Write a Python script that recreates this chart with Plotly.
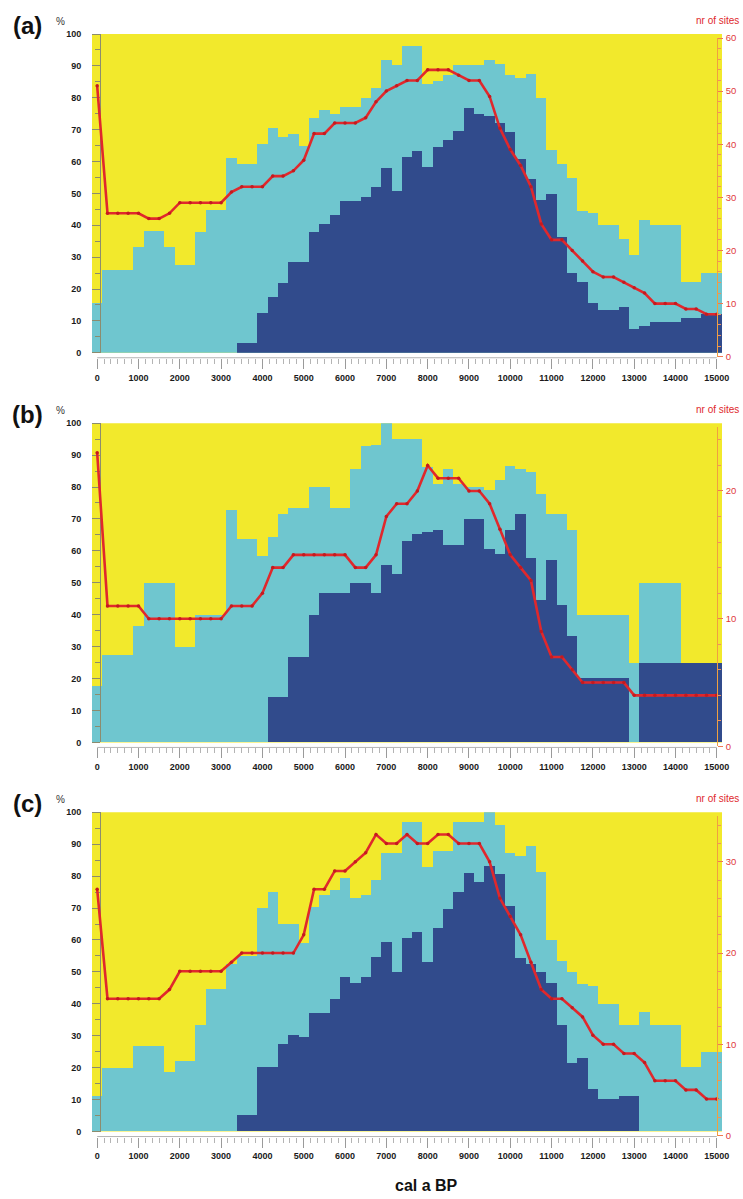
import plotly.graph_objects as go

# ---------------- data ----------------
years = list(range(0, 15001, 250))

# panel (a)
a_cyan = [15.5, 25.9, 25.9, 25.9, 33.2, 38.2, 38.2, 33.2, 27.5, 27.5, 37.8, 44.8, 44.8,
          61.1, 59.2, 59.2, 65.6, 70.5, 67.6, 68.5, 64.8, 73.7, 76.1, 75.0, 77.2, 77.2,
          79.8, 83.2, 92.0, 90.2, 96.1, 96.1, 84.2, 85.2, 87.0, 90.4, 90.3, 90.3, 91.8,
          90.7, 87.2, 86.2, 87.4, 79.9, 63.5, 59.1, 54.9, 44.4, 43.7, 40.0, 40.0, 35.8,
          30.8, 41.6, 40.0, 40.0, 40.0, 22.2, 22.2, 24.9, 24.9]
a_dark = [0, 0, 0, 0, 0, 0, 0, 0, 0, 0, 0, 0, 0, 0,
          3.0, 3.0, 12.4, 17.6, 22.0, 28.6, 28.4, 38.0, 40.4, 43.2, 47.7, 47.7, 48.9,
          52.0, 57.9, 50.8, 61.5, 63.4, 58.2, 64.7, 66.6, 69.7, 76.8, 75.0, 74.4, 72.0,
          69.2, 60.9, 54.6, 47.9, 49.9, 36.3, 24.9, 22.1, 15.5, 13.3, 13.3, 14.2, 7.6,
          8.3, 9.8, 9.8, 9.8, 10.9, 10.9, 12.2, 12.2]
a_sites = [51, 27, 27, 27, 27, 26, 26, 27, 29, 29, 29, 29, 29, 31, 32, 32, 32, 34, 34, 35,
           37, 42, 42, 44, 44, 44, 45, 48, 50, 51, 52, 52, 54, 54, 54, 53, 52, 52, 49, 43,
           39, 36, 32, 25, 22, 22, 20, 18, 16, 15, 15, 14, 13, 12, 10, 10, 10, 9, 9, 8, 8]

# panel (b)
b_cyan = [17.5, 27.3, 27.3, 27.3, 36.4, 50.0, 50.0, 50.0, 30.0, 30.0, 39.8, 39.8, 39.8,
          72.7, 63.6, 63.6, 58.3, 64.3, 71.4, 73.3, 73.3, 79.9, 79.9, 73.3, 73.3, 85.7,
          92.8, 93.2, 100.0, 94.9, 94.9, 95.1, 86.3, 80.9, 85.6, 80.9, 79.9, 79.9, 78.9,
          82.2, 86.6, 85.6, 84.6, 77.8, 71.4, 71.4, 66.5, 39.9, 39.9, 39.9, 39.9, 39.9,
          25.0, 50.0, 50.0, 50.0, 50.0, 25.0, 25.0, 25.0, 25.0]
b_dark = [0, 0, 0, 0, 0, 0, 0, 0, 0, 0, 0, 0, 0, 0, 0, 0, 0,
          14.3, 14.3, 26.8, 26.8, 40.0, 46.7, 46.7, 46.7, 50.0, 50.0, 46.7, 55.6, 52.7,
          63.1, 65.1, 65.9, 66.6, 61.9, 61.9, 70.0, 70.0, 60.5, 58.9, 66.6, 71.4, 57.6,
          44.5, 57.2, 42.9, 33.3, 20.0, 20.0, 20.0, 20.0, 20.0,
          0, 25.0, 25.0, 25.0, 25.0, 25.0, 25.0, 25.0, 25.0]
b_sites = [23, 11, 11, 11, 11, 10, 10, 10, 10, 10, 10, 10, 10, 11, 11, 11, 12, 14, 14, 15,
           15, 15, 15, 15, 15, 14, 14, 15, 18, 19, 19, 20, 22, 21, 21, 21, 20, 20, 19, 17,
           15, 14, 13, 9, 7, 7, 6, 5, 5, 5, 5, 5, 4, 4, 4, 4, 4, 4, 4, 4, 4]

# panel (c)
c_cyan = [11.1, 19.9, 19.9, 19.9, 26.6, 26.6, 26.6, 18.7, 22.0, 22.0, 33.3, 44.5, 44.5,
          52.5, 55.0, 55.0, 69.9, 74.9, 64.9, 64.9, 59.0, 70.3, 73.9, 75.7, 79.2, 73.2,
          74.0, 78.7, 87.3, 87.3, 96.9, 96.9, 82.7, 87.8, 87.8, 96.9, 96.9, 96.9, 100.0,
          96.0, 87.3, 86.2, 89.3, 81.1, 59.8, 53.3, 49.8, 46.1, 45.4, 39.8, 39.8, 33.3,
          33.3, 37.3, 33.3, 33.3, 33.3, 20.0, 20.0, 24.9, 24.9]
c_dark = [0, 0, 0, 0, 0, 0, 0, 0, 0, 0, 0, 0, 0, 0,
          5.0, 5.0, 20.0, 20.0, 27.5, 30.1, 29.5, 37.0, 37.0, 41.3, 48.3, 46.5, 48.3,
          54.5, 59.4, 49.8, 60.5, 62.4, 53.1, 63.6, 69.5, 74.9, 81.0, 78.1, 83.1, 80.5,
          70.7, 54.4, 52.5, 49.8, 46.5, 33.3, 21.3, 22.9, 13.4, 10.0, 10.0, 11.0, 11.0,
          0, 0, 0, 0, 0, 0, 0, 0]
c_sites = [27, 15, 15, 15, 15, 15, 15, 16, 18, 18, 18, 18, 18, 19, 20, 20, 20, 20, 20, 20,
           22, 27, 27, 29, 29, 30, 31, 33, 32, 32, 33, 32, 32, 33, 33, 32, 32, 32, 30, 26,
           24, 22, 19, 16, 15, 15, 14, 13, 11, 10, 10, 9, 9, 8, 6, 6, 6, 5, 5, 4, 4]

panel_labels = ["(a)", "(b)", "(c)"]
site_max = [60, 25, 35]
x_ticks = list(range(0, 15001, 1000))

for arr in (a_cyan, a_dark, a_sites, b_cyan, b_dark, b_sites, c_cyan, c_dark, c_sites):
    assert len(arr) == len(years), len(arr)

# ---------------- styling ----------------
W, H = 743, 1199
ML, MR = 92, 20.5
PW = W - ML - MR
YELLOW = "#f2e92c"
CYAN = "#6fc6cf"
DARK = "#314b8c"
RED = "#e0282c"
FONT = "Liberation Sans, Arial, sans-serif"

def py(px):
    return 1 - px / H

def pxx(px):
    return (px - ML) / PW

panels = [
    dict(cyan=a_cyan, dark=a_dark, sites=a_sites, top=28.3, bot=350.0),
    dict(cyan=b_cyan, dark=b_dark, sites=b_sites, top=421.0, bot=743.3),
    dict(cyan=c_cyan, dark=c_dark, sites=c_sites, top=813.7, bot=1136.0),
]

fig = go.Figure()
layout = dict(
    width=W, height=H, autosize=False,
    margin=dict(l=ML, r=MR, t=0, b=0, pad=0),
    paper_bgcolor="white", plot_bgcolor="rgba(0,0,0,0)",
    barmode="overlay", bargap=0, showlegend=False,
    font=dict(family=FONT, color="#1a1a1a"),
)
shapes = []
annotations = []

for i, p in enumerate(panels):
    xn = "x" if i == 0 else f"x{i+1}"
    yl = "y" if i == 0 else f"y{2*i+1}"
    yr = f"y{2*i+2}"
    xkey = "xaxis" if i == 0 else f"xaxis{i+1}"
    ylkey = "yaxis" if i == 0 else f"yaxis{2*i+1}"
    yrkey = f"yaxis{2*i+2}"

    fig.add_trace(go.Bar(x=years, y=p["cyan"], width=250, xaxis=xn, yaxis=yl,
                         marker=dict(color=CYAN, line=dict(width=0)), hoverinfo="skip"))
    fig.add_trace(go.Bar(x=years, y=p["dark"], width=250, xaxis=xn, yaxis=yl,
                         marker=dict(color=DARK, line=dict(width=0)), hoverinfo="skip"))
    fig.add_trace(go.Scatter(x=years, y=p["sites"], xaxis=xn, yaxis=yr,
                             mode="lines+markers", cliponaxis=False,
                             line=dict(color=RED, width=2.6),
                             marker=dict(size=3.5, color="#c41a1f")))

    layout[xkey] = dict(
        domain=[0, 1], range=[-125, 15125], anchor="free",
        position=py(p["bot"] + 5), showline=False, zeroline=False, showgrid=False,
        ticks="outside", tickmode="array", tickvals=x_ticks,
        ticktext=[str(v) for v in x_ticks], ticklen=10, tickwidth=1,
        tickcolor="#9a9a9a",
        minor=dict(ticks="outside", tick0=0, dtick=1000 / 6, ticklen=5,
                   tickwidth=1, tickcolor="#b4b4b4", showgrid=False),
        tickfont=dict(size=9, color="#1a1a1a", family=FONT, weight="bold"),
        ticklabelstandoff=1,
    )
    layout[ylkey] = dict(
        domain=[py(p["bot"]), py(p["top"])], range=[0, 100], anchor="free",
        position=pxx(100), side="left", showline=True, linecolor="#8c8c6e",
        linewidth=1, zeroline=False, showgrid=False,
        ticks="outside", tick0=0, dtick=10, ticklen=8, tickwidth=1,
        tickcolor="#8c8c6e",
        minor=dict(ticks="outside", tick0=0, dtick=5, ticklen=5, tickwidth=1,
                   tickcolor="#8c8c6e", showgrid=False),
        tickfont=dict(size=9, color="#1a1a1a", family=FONT, weight="bold"),
        ticklabelstandoff=9,
    )
    layout[yrkey] = dict(
        domain=[py(p["bot"] + 4), py(p["top"] + 4)], range=[0, site_max[i]],
        anchor="free", position=pxx(717.3), side="right",
        showline=True, linecolor="#f0a040", linewidth=1,
        zeroline=False, showgrid=False,
        ticks="outside", tick0=0, dtick=10, ticklen=5, tickwidth=1,
        tickcolor="#f07a50",
        minor=dict(ticks="outside", tick0=0, dtick=2, ticklen=3, tickwidth=1,
                   tickcolor="#f09060", showgrid=False),
        tickfont=dict(size=9.5, color="#e0383c", family=FONT),
        ticklabelstandoff=1,
    )

    # yellow plot background
    shapes.append(dict(type="rect", xref=f"{xn} domain", yref=f"{yl} domain",
                       x0=0, x1=1, y0=0, y1=1, fillcolor=YELLOW,
                       line=dict(width=0), layer="below"))
    # x axis baseline from 0 to 15000
    shapes.append(dict(type="line", xref=xn, yref="paper",
                       x0=x_ticks[0], x1=x_ticks[-1],
                       y0=py(p["bot"] + 5), y1=py(p["bot"] + 5),
                       line=dict(color="#b4b4b4", width=1)))

    annotations.append(dict(text=panel_labels[i], xref="paper", yref="paper",
                            x=pxx(27), y=py(p["top"] - 9), xanchor="center",
                            yanchor="middle", showarrow=False,
                            font=dict(size=24, family=FONT, color="#111",
                                      weight="bold")))
    annotations.append(dict(text="%", xref="paper", yref="paper",
                            x=pxx(60), y=py(p["top"] - 13), xanchor="center",
                            yanchor="middle", showarrow=False,
                            font=dict(size=10, family=FONT, color="#333")))
    annotations.append(dict(text="nr of sites", xref="paper", yref="paper",
                            x=pxx(742), y=py(p["top"] - 14), xanchor="right",
                            yanchor="middle", showarrow=False,
                            font=dict(size=10, family=FONT, color=RED)))

annotations.append(dict(text="cal a BP", xref="paper", yref="paper",
                        x=pxx(427), y=py(1190), xanchor="center", yanchor="middle",
                        showarrow=False,
                        font=dict(size=16, family=FONT, color="#111", weight="bold")))

layout["shapes"] = shapes
layout["annotations"] = annotations
fig.update_layout(**layout)

fig.write_html("out.html")
